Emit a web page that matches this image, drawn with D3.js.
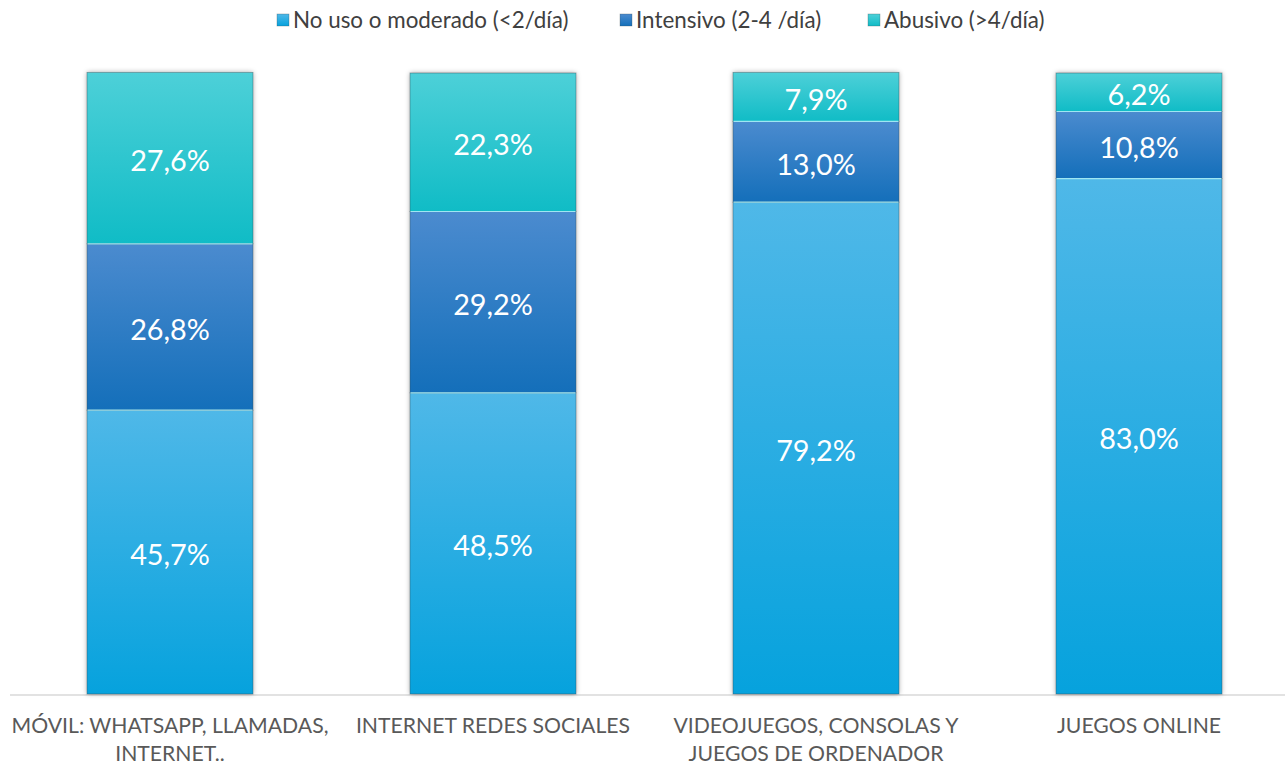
<!DOCTYPE html>
<html>
<head>
<meta charset="utf-8">
<script src="https://cdn.jsdelivr.net/npm/d3@7"></script>
<style>
  body { margin: 0; background: #fff; }
  svg { display: block; font-family: Lato, "Open Sans", sans-serif; }
</style>
</head>
<body>
<svg id="chart" width="1285" height="765"></svg>
<script>
'use strict';

// categories (two-line labels)
var categories = [
  'MÓVIL: WHATSAPP, LLAMADAS,|INTERNET..',
  'INTERNET REDES SOCIALES',
  'VIDEOJUEGOS, CONSOLAS Y|JUEGOS DE ORDENADOR',
  'JUEGOS ONLINE'
];
var seriesNames = ['No uso o moderado (<2/día)', 'Intensivo (2-4 /día)', 'Abusivo (>4/día)'];
var noUso     = [45.7, 48.5, 79.2, 83.0];
var intensivo = [26.8, 29.2, 13.0, 10.8];
var abusivo   = [27.6, 22.3, 7.9, 6.2];

var svg = d3.select('#chart');

// gradient pairs per series: top, bottom
var grads = [
  ['#4fb8e8', '#06a2dd'],
  ['#4b8bcf', '#146fba'],
  ['#4dd0d8', '#10bcc6']
];
var defs = svg.append('defs');
grads.forEach(function (g, i) {
  var lg = defs.append('linearGradient')
    .attr('id', 'g' + i)
    .attr('x1', 0).attr('y1', 0).attr('x2', 0).attr('y2', 1);
  lg.append('stop').attr('offset', '0%').attr('stop-color', g[0]);
  lg.append('stop').attr('offset', '100%').attr('stop-color', g[1]);
});
var shadow = defs.append('filter').attr('id', 'shadow')
  .attr('x', '-10%').attr('y', '-5%').attr('width', '120%').attr('height', '110%');
shadow.append('feDropShadow')
  .attr('dx', 0).attr('dy', 0).attr('stdDeviation', 2.5)
  .attr('flood-color', '#000').attr('flood-opacity', 0.35);

var x = d3.scaleBand()
  .domain(categories)
  .range([8.5, 1300.5])
  .paddingInner(0.486)
  .paddingOuter(0.243);

var y = d3.scaleLinear()
  .domain([0, 100])
  .range([694, 73]);

// stack
var rows = categories.map(function (c, i) {
  return { cat: c, s0: noUso[i], s1: intensivo[i], s2: abusivo[i] };
});
var stack = d3.stack().keys(['s0', 's1', 's2'])(rows);

// axis line
svg.append('line')
  .attr('x1', 10).attr('x2', 1285)
  .attr('y1', 695).attr('y2', 695)
  .attr('stroke', '#d9d9d9')
  .attr('stroke-width', 1.5);

// bar shadows (whole column)
svg.append('g').selectAll('rect')
  .data(rows)
  .join('rect')
  .attr('x', function (d) { return x(d.cat); })
  .attr('width', x.bandwidth())
  .attr('y', function (d) { return y(d.s0 + d.s1 + d.s2); })
  .attr('height', function (d) { return y(0) - y(d.s0 + d.s1 + d.s2); })
  .attr('fill', '#fff')
  .attr('filter', 'url(#shadow)');

var layers = svg.append('g').selectAll('g')
  .data(stack)
  .join('g')
  .attr('fill', function (d, i) { return 'url(#g' + i + ')'; });

layers.selectAll('rect')
  .data(function (d) { return d; })
  .join('rect')
  .attr('x', function (d) { return x(d.data.cat); })
  .attr('width', x.bandwidth())
  .attr('y', function (d) { return y(d[1]); })
  .attr('height', function (d) { return y(d[0]) - y(d[1]); })
  .attr('stroke', 'rgba(60,80,90,0.55)')
  .attr('stroke-width', 0.8);

// light separators between segments
layers.selectAll('line')
  .data(function (d, i) { return i > 0 ? d : []; })
  .join('line')
  .attr('x1', function (d) { return x(d.data.cat) + 0.5; })
  .attr('x2', function (d) { return x(d.data.cat) + x.bandwidth() - 0.5; })
  .attr('y1', function (d) { return y(d[0]); })
  .attr('y2', function (d) { return y(d[0]); })
  .attr('stroke', '#9fe6f2')
  .attr('stroke-width', 1.2);

// value labels
var fmt = function (v) { return v.toFixed(1).replace('.', ',') + '%'; };
layers.selectAll('text')
  .data(function (d) { return d; })
  .join('text')
  .attr('x', function (d) { return x(d.data.cat) + x.bandwidth() / 2; })
  .attr('y', function (d) { return (y(d[0]) + y(d[1])) / 2 + 3; })
  .attr('dy', '0.35em')
  .attr('text-anchor', 'middle')
  .attr('fill', '#fff')
  .style('font-size', '28.8px')
  .text(function (d) { return fmt(d[1] - d[0]); });

// category labels
var xl = svg.append('g').selectAll('text')
  .data(categories)
  .join('text')
  .attr('x', function (d) { return x(d) + x.bandwidth() / 2; })
  .attr('y', 733)
  .attr('text-anchor', 'middle')
  .attr('fill', '#595959')
  .style('font-size', '21.2px');
xl.selectAll('tspan')
  .data(function (d) { return d.split('|'); })
  .join('tspan')
  .attr('x', function () { var c = d3.select(this.parentNode).datum(); return x(c) + x.bandwidth() / 2; })
  .attr('dy', function (d, i) { return i === 0 ? 0 : 27.5; })
  .text(function (d) { return d; });

// legend
var legendX = [277, 620, 868];
var lg = svg.append('g').selectAll('g')
  .data(seriesNames)
  .join('g')
  .attr('transform', function (d, i) { return 'translate(' + legendX[i] + ',14)'; });
lg.append('rect')
  .attr('width', 12).attr('height', 12)
  .attr('fill', function (d, i) { return 'url(#g' + i + ')'; })
  .attr('stroke', 'rgba(60,80,90,0.5)')
  .attr('stroke-width', 0.6);
lg.append('text')
  .attr('x', 16)
  .attr('y', 6)
  .attr('dy', '0.35em')
  .attr('fill', '#404040')
  .style('font-size', '22.4px')
  .text(function (d) { return d; });
</script>
</body>
</html>
